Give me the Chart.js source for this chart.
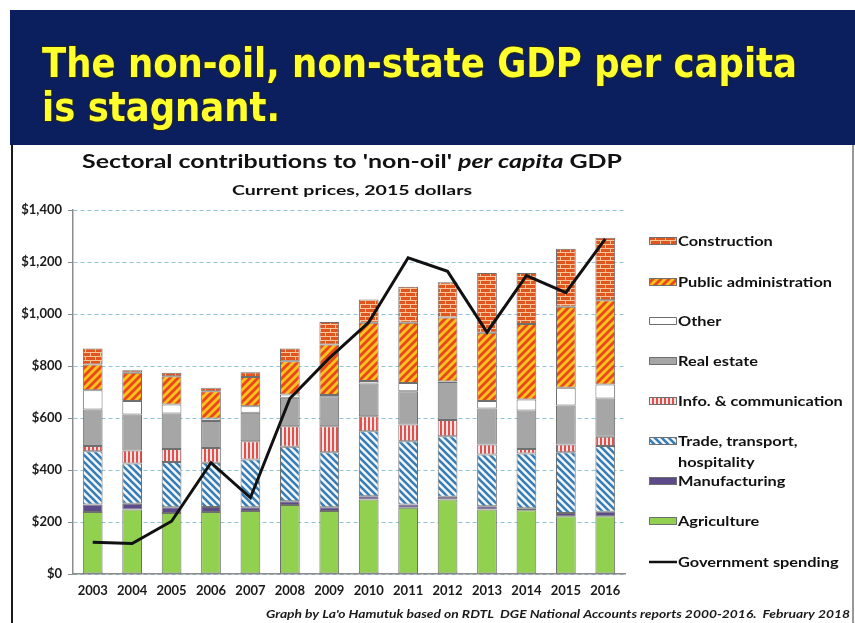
<!DOCTYPE html>
<html>
<head>
<meta charset="utf-8">
<script src="https://cdn.jsdelivr.net/npm/chart.js@4/dist/chart.umd.min.js"></script>
<style>
  html, body { margin: 0; padding: 0; background: #ffffff; }
  #wrap { position: relative; width: 855px; height: 623px; }
  canvas { display: block; }
</style>
</head>
<body>
<div id="wrap"><canvas id="c" width="855" height="623"></canvas></div>
<script>
// Sectoral contributions to non-oil GDP per capita, US$ (current prices, 2015 dollars)
const years = ['2003','2004','2005','2006','2007','2008','2009','2010','2011','2012','2013','2014','2015','2016'];
const agriculture    = [238, 248, 235, 238, 242, 265, 242, 287, 255, 287, 248, 245, 222, 222];
const manufacturing  = [ 29,  22,  22,  20,  15,  15,  15,  12,  12,  10,  13,   8,  13,  17];
const tradeTransport = [205, 155, 174, 170, 183, 209, 211, 250, 244, 233, 199, 210, 233, 253];
const infoComm       = [ 20,  50,  50,  57,  71,  79, 100,  58,  64,  62,  38,  18,  30,  36];
const realEstate     = [141, 138, 136, 103, 109, 110, 116, 126, 128, 146, 139, 148, 150, 147];
const other          = [ 74,  52,  35,  10,  25,  12,   4,   9,  32,   2,  28,  42,  68,  54];
const publicAdmin    = [ 99, 109, 109, 105, 113, 128, 195, 224, 231, 247, 263, 291, 312, 324];
const construction   = [ 61,  10,  13,  13,  18,  49,  86,  90, 139, 135, 230, 196, 223, 240];
const govSpending    = [122, 117, 203, 428, 293, 675, 830, 968, 1216, 1164, 930, 1148, 1082, 1289];
const yTicks = [0, 200, 400, 600, 800, 1000, 1200, 1400];

const canvas = document.getElementById('c');
const FONT = 'Lato, "Open Sans", sans-serif';
const HEAD_FONT = '"DejaVu Sans", Verdana, sans-serif';

function makePattern(w, h, draw) {
  const c = document.createElement('canvas');
  c.width = w; c.height = h;
  const g = c.getContext('2d');
  draw(g, w, h);
  return canvas.getContext('2d').createPattern(c, 'repeat');
}

// blue "\" hatching
const tradeFill = makePattern(7, 7, (g, s) => {
  g.fillStyle = '#f3f8fc'; g.fillRect(0, 0, s, s);
  g.strokeStyle = '#3a7db4'; g.lineWidth = 2.6;
  g.beginPath();
  for (const k of [-s, 0, s]) { g.moveTo(k - 1, -1); g.lineTo(k + s + 1, s + 1); }
  g.stroke();
});
// orange with yellow "/" hatching
const adminFill = makePattern(8, 8, (g, s) => {
  g.fillStyle = '#e8481a'; g.fillRect(0, 0, s, s);
  g.strokeStyle = '#ffc320'; g.lineWidth = 2.8;
  g.beginPath();
  for (const k of [0, s, 2 * s]) { g.moveTo(k + 1, -1); g.lineTo(k - s - 1, s + 1); }
  g.stroke();
});
// brick wall
const brickFill = makePattern(10, 8, (g) => {
  g.fillStyle = '#e0561e'; g.fillRect(0, 0, 10, 8);
  g.fillStyle = '#f7c59a';
  g.fillRect(0, 0, 10, 1); g.fillRect(0, 4, 10, 1);
  g.fillRect(0, 1, 1, 3);  g.fillRect(5, 5, 1, 3);
});
// red vertical stripes
const infoFill = makePattern(4, 4, (g) => {
  g.fillStyle = '#fbe4e4'; g.fillRect(0, 0, 4, 4);
  g.fillStyle = '#e0504c'; g.fillRect(0, 0, 2, 4);
});

const EDGE = '#6f6f6f';
function barSet(label, data, fill) {
  return {
    type: 'bar', label, data, backgroundColor: fill,
    borderColor: EDGE, borderWidth: 1, borderSkipped: false,
    stack: 'gdp', order: 1,
    barPercentage: 0.5, categoryPercentage: 1.0
  };
}

const datasets = [
  barSet('Agriculture', agriculture, '#92d050'),
  barSet('Manufacturing', manufacturing, '#5d4a88'),
  barSet('Trade, transport, hospitality', tradeTransport, tradeFill),
  barSet('Info. & communication', infoComm, infoFill),
  barSet('Real estate', realEstate, '#a6a6a6'),
  barSet('Other', other, '#ffffff'),
  barSet('Public administration', publicAdmin, adminFill),
  barSet('Construction', construction, brickFill),
  {
    type: 'line', label: 'Government spending', data: govSpending,
    borderColor: '#111111', borderWidth: 3, pointRadius: 0, tension: 0,
    fill: false, stack: 'gov', order: 0
  }
];

// draw text squeezed horizontally by sx
function drawScaled(ctx, text, x, y, sx, stroke) {
  ctx.save();
  ctx.translate(x, y);
  ctx.scale(sx, 1);
  if (stroke) ctx.strokeText(text, 0, 0);
  ctx.fillText(text, 0, 0);
  ctx.restore();
  return ctx.measureText(text).width * sx;
}
function fitFactor(ctx, font, text, target) {
  ctx.font = font;
  return target / ctx.measureText(text).width;
}

const decorations = {
  id: 'decorations',
  beforeDraw(chart) {
    const ctx = chart.ctx;
    ctx.save();
    ctx.fillStyle = '#ffffff';
    ctx.fillRect(0, 0, chart.width, chart.height);
    // banner
    ctx.fillStyle = '#0b1f5e';
    ctx.fillRect(10, 10, 845, 135);
    // frame of the chart box
    ctx.strokeStyle = '#1a1a1a';
    ctx.lineWidth = 2;
    ctx.beginPath(); ctx.moveTo(12, 145); ctx.lineTo(12, 623); ctx.stroke();
    ctx.lineWidth = 1.2;
    ctx.strokeStyle = '#555555';
    ctx.beginPath(); ctx.moveTo(853, 145); ctx.lineTo(853, 623); ctx.stroke();
    ctx.restore();
  },
  afterDraw(chart) {
    const ctx = chart.ctx;
    ctx.save();
    ctx.textBaseline = 'alphabetic';
    ctx.textAlign = 'left';

    // headline
    const hFont = `bold 41px ${HEAD_FONT}`;
    const line1 = 'The non-oil, non-state GDP per capita';
    const hs = fitFactor(ctx, hFont, line1, 755);
    ctx.font = hFont;
    ctx.fillStyle = '#ffff2e';
    ctx.strokeStyle = 'rgba(40,40,20,0.9)';
    ctx.lineWidth = 2;
    ctx.lineJoin = 'round';
    drawScaled(ctx, line1, 42, 77, hs, true);
    drawScaled(ctx, 'is stagnant.', 42, 121, hs, true);

    // chart title with italic part
    const tB = `bold 19px ${FONT}`;
    const tI = `italic bold 19px ${FONT}`;
    const parts = [["Sectoral contributions to 'non-oil' ", tB], ['per capita', tI], [' GDP', tB]];
    let total = 0;
    for (const [t, f] of parts) { ctx.font = f; total += ctx.measureText(t).width; }
    const ts = 540 / total;
    let x = 82;
    ctx.fillStyle = '#111111';
    for (const [t, f] of parts) { ctx.font = f; x += drawScaled(ctx, t, x, 168, ts); }

    const sub = 'Current prices, 2015 dollars';
    const sFont = `bold 14px ${FONT}`;
    const ss = fitFactor(ctx, sFont, sub, 240);
    ctx.font = sFont;
    drawScaled(ctx, sub, 232, 195, ss);

    // legend
    const lFont = `bold 14px ${FONT}`;
    const ls = fitFactor(ctx, lFont, 'Public administration', 154);
    ctx.font = lFont;
    ctx.textBaseline = 'middle';
    const items = [
      [datasets[7], 241], [datasets[6], 282], [datasets[5], 321], [datasets[4], 361],
      [datasets[3], 401], [datasets[2], 441], [datasets[1], 481], [datasets[0], 521]
    ];
    for (const [ds, y] of items) {
      ctx.fillStyle = ds.backgroundColor;
      ctx.fillRect(649, y - 4, 28, 8);
      ctx.strokeStyle = EDGE; ctx.lineWidth = 1;
      ctx.strokeRect(649.5, y - 3.5, 27, 7);
      ctx.fillStyle = '#111111';
      if (ds.label.startsWith('Trade')) {
        drawScaled(ctx, 'Trade, transport,', 678, y, ls);
        drawScaled(ctx, 'hospitality', 678, y + 21, ls);
      } else {
        drawScaled(ctx, ds.label, 678, y, ls);
      }
    }
    ctx.strokeStyle = '#111111'; ctx.lineWidth = 2.5;
    ctx.beginPath(); ctx.moveTo(649, 562); ctx.lineTo(677, 562); ctx.stroke();
    ctx.fillStyle = '#111111';
    drawScaled(ctx, datasets[8].label, 678, 562, ls);

    // source note
    ctx.textBaseline = 'alphabetic';
    const note = "Graph by La'o Hamutuk based on RDTL  DGE National Accounts reports 2000-2016.  February 2018";
    const nFont = `italic bold 12px ${FONT}`;
    const ns = fitFactor(ctx, nFont, note, 584);
    ctx.font = nFont;
    ctx.fillStyle = '#1a1a1a';
    drawScaled(ctx, note, 266, 618, ns);
    ctx.restore();
  }
};

new Chart(canvas, {
  data: { labels: years, datasets },
  options: {
    responsive: false,
    animation: false,
    layout: { padding: { left: 0, top: 210, right: 230, bottom: 0 } },
    plugins: { legend: { display: false }, tooltip: { enabled: false }, title: { display: false } },
    scales: {
      x: {
        stacked: true,
        offset: true,
        grid: { display: false, drawTicks: false },
        border: { display: true, color: '#8c8c8c', width: 1.5 },
        ticks: { color: '#1a1a1a', font: { family: FONT, size: 13, weight: 'bold' }, padding: 9, maxRotation: 0 },
        afterFit(scale) { scale.height = 49; }
      },
      y: {
        stacked: true,
        min: 0, max: 1400,
        afterBuildTicks(scale) { scale.ticks = yTicks.map(v => ({ value: v })); },
        grid: {
          color: '#8fc3d6', lineWidth: 1, drawTicks: true, tickLength: 5,
          tickColor: '#8c8c8c', tickBorderDash: [], tickWidth: 1
        },
        border: { display: true, color: '#8c8c8c', width: 1.5, dash: [4, 3] },
        ticks: {
          color: '#1a1a1a', font: { family: FONT, size: 13, weight: 'bold' }, padding: 6,
          callback: (v) => '$' + Number(v).toLocaleString('en-US')
        },
        afterFit(scale) { scale.width = 73; }
      }
    }
  },
  plugins: [decorations]
});
</script>
</body>
</html>
